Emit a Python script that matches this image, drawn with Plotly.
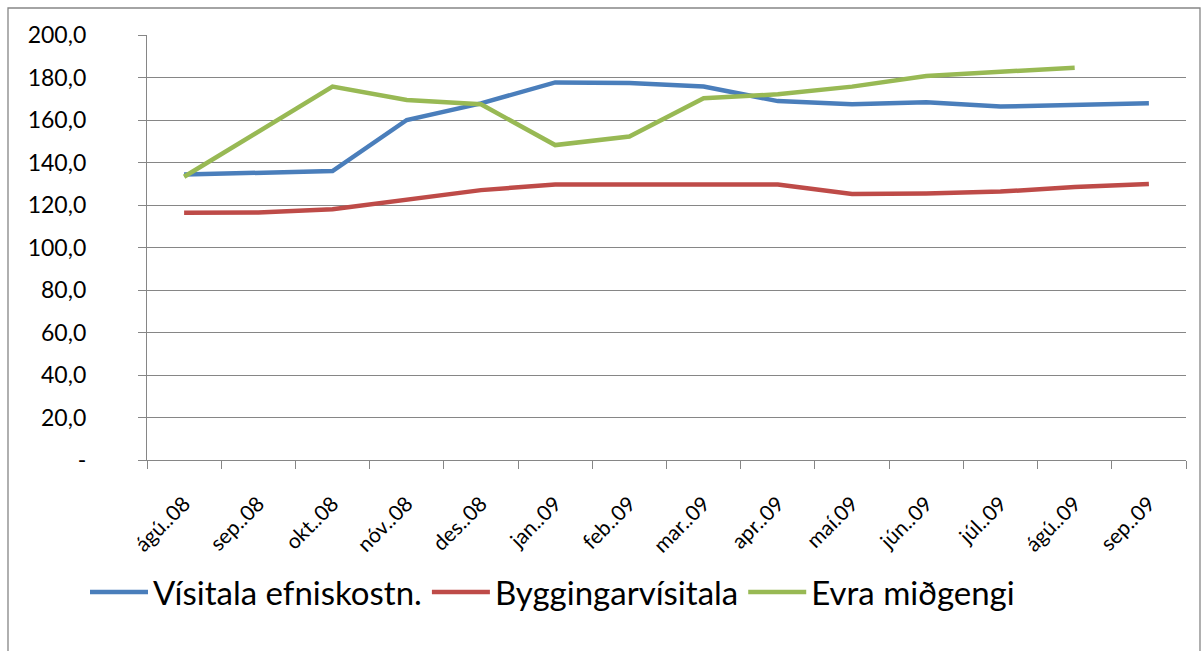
import plotly.graph_objects as go

months = ["ágú..08", "sep..08", "okt..08", "nóv..08", "des..08", "jan..09", "feb..09",
          "mar..09", "apr..09", "maí.09", "jún..09", "júl..09", "ágú..09", "sep..09"]

visitala_efniskostn = [134.3, 135.1, 136.0, 160.0, 167.8, 177.7, 177.4,
                       175.8, 168.9, 167.4, 168.3, 166.3, 167.2, 167.9]
byggingarvisitala = [116.4, 116.5, 118.0, 122.7, 127.0, 129.6, 129.6,
                     130.0, 129.6, 125.2, 125.4, 126.3, 128.5, 129.9]
evra_midgengi = [133.3, 154.5, 175.7, 169.4, 167.4, 148.2, 152.2,
                 170.2, 172.1, 175.7, 180.7, 182.7, 184.6, None]

series_names = ["Vísitala efniskostn.", "Byggingarvísitala", "Evra miðgengi"]
series_colors = ["#4A7EBB", "#BE4B48", "#98B954"]

y_tickvals = [0, 20, 40, 60, 80, 100, 120, 140, 160, 180, 200]
y_ticktext = ["-", "20,0", "40,0", "60,0", "80,0", "100,0", "120,0", "140,0", "160,0", "180,0", "200,0"]

FONT = "Lato"

fig = go.Figure()
for name, vals, col in zip(series_names, [visitala_efniskostn, byggingarvisitala, evra_midgengi], series_colors):
    fig.add_trace(go.Scatter(x=months, y=vals, name=name, mode="lines",
                             line=dict(color=col, width=4.5), connectgaps=False))

W, H = 1202, 651
L, R, T, B = 147, 16, 35, 191
pw, ph = W - L - R, H - T - B

def px_x(x):
    return (x - L) / pw

def px_y(y):
    return 1 - (y - T) / ph

fig.add_shape(type="rect", xref="paper", yref="paper",
              x0=px_x(8), x1=px_x(1200), y0=px_y(700), y1=px_y(8),
              line=dict(color="#868686", width=1.3), fillcolor="rgba(0,0,0,0)", layer="below")

fig.update_layout(
    width=W, height=H,
    margin=dict(l=L, r=R, t=T, b=B),
    paper_bgcolor="white", plot_bgcolor="white",
    font=dict(family=FONT, color="black"),
    showlegend=True,
    legend=dict(orientation="h", x=px_x(85), y=px_y(564), xanchor="left", yanchor="top",
                font=dict(size=33, family=FONT), itemwidth=58, tracegroupgap=0,
                bgcolor="rgba(0,0,0,0)"),
    xaxis=dict(
        type="category", categoryorder="array", categoryarray=months,
        range=[-0.5, len(months) - 0.5],
        tickangle=-45, tickfont=dict(size=21, family=FONT),
        showgrid=False, showline=True, linecolor="#868686", linewidth=1.3,
        ticks="outside", ticklen=8, tickcolor="#868686", tickwidth=1.3,
        tickson="boundaries", zeroline=False, fixedrange=True,
        ticklabelstandoff=22,
    ),
    yaxis=dict(
        tickmode="array", tickvals=y_tickvals, ticktext=y_ticktext,
        range=[0, 200], tickfont=dict(size=23, family=FONT),
        showgrid=True, gridcolor="#868686", gridwidth=1.3,
        showline=True, linecolor="#868686", linewidth=1.3,
        ticks="outside", ticklen=8, tickcolor="#868686", tickwidth=1.3,
        zeroline=False, fixedrange=True, ticklabelstandoff=47,
    ),
)

fig.write_html("out.html", config={"displayModeBar": False},
               post_script="document.body.style.margin='0px';document.body.style.overflow='hidden';")
